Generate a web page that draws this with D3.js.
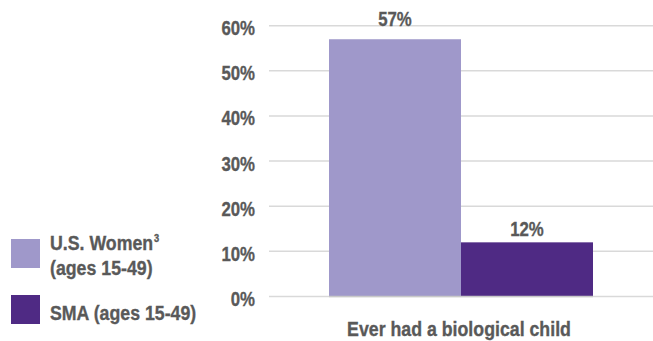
<!DOCTYPE html>
<html>
<head>
<meta charset="utf-8">
<script src="https://cdn.jsdelivr.net/npm/d3@7"></script>
<style>
  body { margin: 0; background: #fff; }
  text { font-family: "Liberation Sans Narrow", "Arial Narrow", "Liberation Sans", Arial, sans-serif; font-weight: bold; fill: #595959; stroke: #595959; stroke-width: 0.35px; }
</style>
</head>
<body>
<div id="chart"></div>
<script>
var categories = ['Ever had a biological child'];
var seriesNames = ['U.S. Women', 'SMA (ages 15-49)'];
var seriesValues = [57, 12];
var yTicks = [0, 10, 20, 30, 40, 50, 60];
var colors = ['#9f98ca', '#4f2a84'];

var width = 653, height = 341;
var plotLeft = 269, plotRight = 653, plotTop = 25.7, plotBottom = 296.5;
var fontSize = 21;
var numScale = 0.8, wordScale = 0.845;

var svg = d3.select('#chart').append('svg')
  .attr('width', width)
  .attr('height', height);

// narrow-ish text: squeeze horizontally
function label(parent, x, y, sx, anchor) {
  return parent.append('g')
    .attr('transform', 'translate(' + x + ',' + y + ') scale(' + sx + ',1)')
    .append('text')
    .attr('text-anchor', anchor)
    .attr('font-size', fontSize);
}

var y = d3.scaleLinear().domain([0, 60]).range([plotBottom, plotTop]);

var x0 = d3.scaleBand().domain(categories).range([plotLeft, plotRight]).paddingInner(0).paddingOuter(0.2273);
var x1 = d3.scaleBand().domain(seriesNames).range([0, x0.bandwidth()]);

// gridlines
svg.append('g').selectAll('line')
  .data(yTicks)
  .enter().append('line')
  .attr('x1', plotLeft).attr('x2', plotRight)
  .attr('y1', function(d) { return y(d); })
  .attr('y2', function(d) { return y(d); })
  .attr('stroke', '#d9d9d9')
  .attr('stroke-width', 1.5);

// y labels
yTicks.forEach(function(d) {
  label(svg, 255, y(d) + 9.5, numScale, 'end').text(d + '%');
});

// bars
var bx = x0(categories[0]);
var g = svg.append('g').attr('transform', 'translate(' + bx + ',0)');
g.selectAll('rect')
  .data(seriesValues)
  .enter().append('rect')
  .attr('x', function(d, i) { return x1(seriesNames[i]); })
  .attr('y', function(d) { return y(d); })
  .attr('width', x1.bandwidth())
  .attr('height', function(d) { return plotBottom - y(d); })
  .attr('fill', function(d, i) { return colors[i]; });

var labelGap = [13.5, 6.5];
seriesValues.forEach(function(d, i) {
  label(g, x1(seriesNames[i]) + x1.bandwidth() / 2, y(d) - labelGap[i], numScale, 'middle').text(d + '%');
});

// baseline under bars
svg.append('line')
  .attr('x1', bx).attr('x2', bx + x0.bandwidth())
  .attr('y1', plotBottom).attr('y2', plotBottom)
  .attr('stroke', '#c8c8c8').attr('stroke-width', 1.5);

// category label
label(svg, bx + x0.bandwidth() / 2 - 2, 336, wordScale, 'middle').text(categories[0]);

// legend
var legendY = [239, 295];
var lg = svg.append('g');
lg.selectAll('rect')
  .data(seriesNames)
  .enter().append('rect')
  .attr('x', 11)
  .attr('y', function(d, i) { return legendY[i]; })
  .attr('width', 29).attr('height', 29)
  .attr('fill', function(d, i) { return colors[i]; });

var t1 = label(lg, 50, 250, wordScale, 'start');
t1.append('tspan').text(seriesNames[0]);
t1.append('tspan').attr('font-size', 11).attr('dy', -8).attr('dx', 1).text('3');
label(lg, 50, 275, wordScale, 'start').text('(ages 15-49)');
label(lg, 50, 320, wordScale, 'start').text(seriesNames[1]);
</script>
</body>
</html>
